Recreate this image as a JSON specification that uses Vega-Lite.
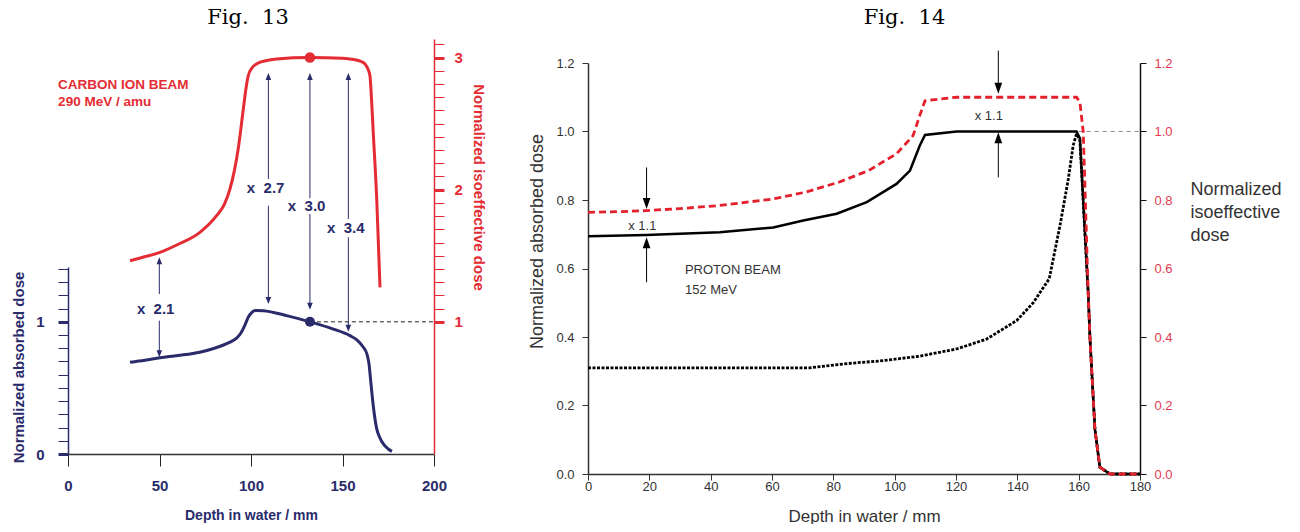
{
  "$schema": "https://vega.github.io/schema/vega-lite/v6.json",
  "padding": {"left": 11, "top": 7, "right": 0, "bottom": 0},
  "bounds": "flush",
  "spacing": 154,
  "config": {
    "view": {"stroke": null},
    "axis": {"grid": false},
    "font": "Liberation Sans"
  },
  "datasets": {
    "c13_blue": [{"x":33.9,"y":0.695},{"x":42,"y":0.71},{"x":50.3,"y":0.728},{"x":60,"y":0.745},{"x":72,"y":0.77},{"x":80,"y":0.8},{"x":88.5,"y":0.846},{"x":92,"y":0.875},{"x":94.5,"y":0.915},{"x":96.5,"y":0.97},{"x":98.5,"y":1.035},{"x":100.5,"y":1.072},{"x":102.5,"y":1.086},{"x":106.7,"y":1.084},{"x":120,"y":1.045},{"x":132.2,"y":1.0},{"x":145,"y":0.945},{"x":154,"y":0.896},{"x":158,"y":0.862},{"x":161,"y":0.815},{"x":163.5,"y":0.75},{"x":164.5,"y":0.68},{"x":165.3,"y":0.57},{"x":166,"y":0.47},{"x":167.3,"y":0.31},{"x":168.7,"y":0.19},{"x":170.5,"y":0.12},{"x":172.3,"y":0.076},{"x":175,"y":0.038},{"x":177,"y":0.02}],
    "c13_red": [{"x":33.9,"y":1.462},{"x":40,"y":1.485},{"x":50.3,"y":1.526},{"x":60,"y":1.585},{"x":72.1,"y":1.677},{"x":81.2,"y":1.803},{"x":85.5,"y":1.89},{"x":88.5,"y":2.005},{"x":91,"y":2.15},{"x":93,"y":2.308},{"x":95.8,"y":2.61},{"x":97.3,"y":2.77},{"x":98.5,"y":2.862},{"x":100.5,"y":2.92},{"x":103,"y":2.951},{"x":108,"y":2.975},{"x":114,"y":2.989},{"x":132.2,"y":3.0},{"x":150,"y":2.995},{"x":156,"y":2.985},{"x":160,"y":2.97},{"x":162.3,"y":2.951},{"x":164,"y":2.91},{"x":165,"y":2.862},{"x":165.8,"y":2.7},{"x":166.8,"y":2.434},{"x":168.7,"y":1.929},{"x":170.5,"y":1.261}],
    "c13_ref": [{"x":132.2,"x2":200,"y":1.0}],
    "c13_arrows": [{"x":49.9,"y":1.462,"y2":1.21},{"x":49.9,"y":1.009,"y2":0.758},{"x":109.5,"y":2.857,"y2":2.081},{"x":109.5,"y":1.878,"y2":1.161},{"x":132.2,"y":2.857,"y2":1.935},{"x":132.2,"y":1.816,"y2":1.118},{"x":153.2,"y":2.857,"y2":1.778},{"x":153.2,"y":1.64,"y2":0.951}],
    "c13_heads_up": [{"x":49.9,"y":1.462},{"x":109.5,"y":2.857},{"x":132.2,"y":2.857},{"x":153.2,"y":2.857}],
    "c13_heads_down": [{"x":49.9,"y":0.758},{"x":109.5,"y":1.161},{"x":132.2,"y":1.118},{"x":153.2,"y":0.951}],
    "c13_factors": [{"x":47.9,"y":1.097,"label":"x\u00a0 2.1"},{"x":108,"y":2.015,"label":"x\u00a0 2.7"},{"x":130.4,"y":1.879,"label":"x\u00a0 3.0"},{"x":151.8,"y":1.71,"label":"x\u00a0 3.4"}],
    "c13_beam": [{"x":-5.4,"y":2.762,"label":"CARBON ION BEAM"},{"x":-5.4,"y":2.631,"label":"290 MeV / amu"}],
    "c13_blue_dot": [{"x":132.2,"y":1.0}],
    "c13_red_dot": [{"x":132.2,"y":3.0}],
    "p14_solid": [{"x":0,"y":0.694},{"x":19,"y":0.698},{"x":43,"y":0.706},{"x":60.4,"y":0.72},{"x":70.2,"y":0.74},{"x":81.1,"y":0.76},{"x":90.9,"y":0.794},{"x":100.6,"y":0.847},{"x":105,"y":0.886},{"x":108.2,"y":0.959},{"x":109.9,"y":0.99},{"x":120.2,"y":1.0},{"x":159.3,"y":1.0},{"x":160.4,"y":0.98},{"x":163.1,"y":0.53},{"x":163.7,"y":0.394},{"x":165.3,"y":0.131},{"x":166.9,"y":0.02},{"x":170.2,"y":0},{"x":180,"y":0}],
    "p14_red": [{"x":0,"y":0.764},{"x":10,"y":0.766},{"x":19,"y":0.769},{"x":30,"y":0.775},{"x":43,"y":0.784},{"x":60.4,"y":0.803},{"x":71,"y":0.823},{"x":81.8,"y":0.852},{"x":91.5,"y":0.886},{"x":100.6,"y":0.935},{"x":106,"y":0.988},{"x":108.2,"y":1.047},{"x":109.9,"y":1.09},{"x":120.2,"y":1.1},{"x":159.3,"y":1.1},{"x":160.4,"y":1.086},{"x":161.5,"y":0.998},{"x":163.1,"y":0.53},{"x":163.7,"y":0.394},{"x":165.3,"y":0.131},{"x":166.9,"y":0.02},{"x":170.2,"y":0},{"x":180,"y":0}],
    "p14_dotted": [{"x":0,"y":0.31},{"x":72.4,"y":0.31},{"x":80,"y":0.318},{"x":86.5,"y":0.324},{"x":95.2,"y":0.33},{"x":108.2,"y":0.344},{"x":110.4,"y":0.348},{"x":120.2,"y":0.365},{"x":130,"y":0.394},{"x":139.8,"y":0.448},{"x":145.2,"y":0.5},{"x":150.4,"y":0.57},{"x":153.9,"y":0.725},{"x":156.6,"y":0.86},{"x":158.2,"y":0.959},{"x":159.3,"y":0.993},{"x":160.4,"y":0.975},{"x":163.1,"y":0.53},{"x":163.7,"y":0.394},{"x":165.3,"y":0.131},{"x":166.9,"y":0.02},{"x":170.2,"y":0},{"x":180,"y":0}],
    "p14_ref": [{"x":160,"x2":180,"y":1.0}],
    "p14_arrows": [{"x":19.1,"y":0.895,"y2":0.79},{"x":19.1,"y":0.56,"y2":0.675},{"x":133.8,"y":1.236,"y2":1.126},{"x":133.8,"y":0.866,"y2":0.982}],
    "p14_heads_up": [{"x":19.1,"y":0.675},{"x":133.8,"y":0.982}],
    "p14_heads_down": [{"x":19.1,"y":0.79},{"x":133.8,"y":1.126}],
    "p14_factors": [{"x":17.7,"y":0.725,"label":"x 1.1"},{"x":130.7,"y":1.046,"label":"x 1.1"}],
    "p14_beam": [{"x":31.6,"y":0.584,"label":"PROTON BEAM"},{"x":31.6,"y":0.526,"label":"152 MeV"}]
  },
  "hconcat": [
    {
      "width": 366,
      "height": 415,
      "title": {"text": "Fig.\u00a0 13", "font": "DejaVu Serif", "fontSize": 21, "fontWeight": "normal", "color": "#000000", "anchor": "middle", "frame": "bounds", "baseline": "alphabetic", "offset": -6},
      "encoding": {
        "x": {
          "field": "x", "type": "quantitative",
          "scale": {"domain": [0, 200]},
          "axis": {
            "values": [0, 50, 100, 150, 200],
            "title": "Depth in water / mm",
            "titleFont": "Liberation Sans", "titleFontSize": 14, "titleFontWeight": "bold", "titleColor": "#2a2b6b", "titlePadding": 15,
            "labelFont": "Liberation Sans", "labelFontSize": 15, "labelFontWeight": "bold", "labelColor": "#2a2b6b", "labelPadding": 12,
            "tickSize": 12, "tickColor": "#222222", "domainColor": "#333333", "domainWidth": 1.5, "labelFlush": false
          }
        }
      },
      "layer": [
        {
          "encoding": {
            "y": {
              "field": "y", "type": "quantitative",
              "scale": {"domain": [0, 1.4148], "range": [415, 228]},
              "axis": {
                "orient": "left",
                "values": [0, 0.1, 0.2, 0.3, 0.4, 0.5, 0.6, 0.7, 0.8, 0.9, 1, 1.1, 1.2, 1.3, 1.4],
                "labelExpr": "datum.value === 0 ? '0' : (datum.value === 1 ? '1' : '')",
                "tickSize": 10,
                "tickWidth": {"condition": {"test": "datum.value === 0 || datum.value === 1", "value": 3}, "value": 1},
                "tickColor": "#2a2b6b", "domainColor": "#2a2b6b", "domainWidth": 1.5,
                "labelFont": "Liberation Sans", "labelFontSize": 15, "labelFontWeight": "bold", "labelColor": "#2a2b6b", "labelPadding": 14,
                "title": "Normalized absorbed dose",
                "titleFont": "Liberation Sans", "titleFontSize": 15, "titleFontWeight": "bold", "titleColor": "#2a2b6b",
                "titleAngle": -90, "titleX": -50, "titleY": 328, "titleBaseline": "middle", "titleAlign": "center"
              }
            }
          },
          "layer": [
            {"data": {"name": "c13_blue"}, "mark": {"type": "line", "color": "#2a2b6b", "strokeWidth": 3, "interpolate": "monotone"}}
          ]
        },
        {
          "encoding": {
            "y": {
              "field": "y", "type": "quantitative",
              "scale": {"domain": [0, 3.14]},
              "axis": {
                "orient": "right",
                "values": [1, 1.1, 1.2, 1.3, 1.4, 1.5, 1.6, 1.7, 1.8, 1.9, 2, 2.1, 2.2, 2.3, 2.4, 2.5, 2.6, 2.7, 2.8, 2.9, 3, 3.1],
                "labelExpr": "(datum.value === 1 || datum.value === 2 || datum.value === 3) ? format(datum.value, 'd') : ''",
                "tickSize": 10,
                "tickWidth": {"condition": {"test": "datum.value === 1 || datum.value === 2 || datum.value === 3", "value": 3}, "value": 1},
                "tickColor": "#e42c34", "domainColor": "#e42c34", "domainWidth": 1.5,
                "labelFont": "Liberation Sans", "labelFontSize": 15, "labelFontWeight": "bold", "labelColor": "#e42c34", "labelPadding": 10,
                "title": "Normalized isoeffective dose",
                "titleFont": "Liberation Sans", "titleFontSize": 15, "titleFontWeight": "bold", "titleColor": "#e42c34",
                "titleAngle": 90, "titleX": 44, "titleY": 148, "titleBaseline": "middle", "titleAlign": "center"
              }
            }
          },
          "layer": [
            {"data": {"name": "c13_red"}, "mark": {"type": "line", "color": "#e42c34", "strokeWidth": 3, "interpolate": "monotone"}},
            {"data": {"name": "c13_ref"}, "mark": {"type": "rule", "color": "#222222", "strokeWidth": 1, "strokeDash": [4, 3]}, "encoding": {"x2": {"field": "x2"}}},
            {"data": {"name": "c13_arrows"}, "mark": {"type": "rule", "color": "#2a2b6b", "strokeWidth": 1}, "encoding": {"y2": {"field": "y2"}}},
            {"data": {"name": "c13_heads_up"}, "mark": {"type": "point", "shape": "M-0.8,1L0.8,1L0,-1Z", "filled": true, "size": 49, "color": "#2a2b6b", "opacity": 1, "strokeWidth": 0}},
            {"data": {"name": "c13_heads_down"}, "mark": {"type": "point", "shape": "M-0.8,-1L0.8,-1L0,1Z", "filled": true, "size": 49, "color": "#2a2b6b", "opacity": 1, "strokeWidth": 0}},
            {"data": {"name": "c13_factors"}, "mark": {"type": "text", "font": "Liberation Sans", "fontSize": 15, "fontWeight": "bold", "color": "#2a2b6b", "align": "center", "baseline": "middle"}, "encoding": {"text": {"field": "label"}}},
            {"data": {"name": "c13_beam"}, "mark": {"type": "text", "font": "Liberation Sans", "fontSize": 13.5, "fontWeight": "bold", "color": "#e42c34", "align": "left", "baseline": "alphabetic"}, "encoding": {"text": {"field": "label"}}},
            {"data": {"name": "c13_blue_dot"}, "mark": {"type": "point", "shape": "circle", "filled": true, "size": 100, "color": "#2a2b6b", "opacity": 1}},
            {"data": {"name": "c13_red_dot"}, "mark": {"type": "point", "shape": "circle", "filled": true, "size": 110, "color": "#e42c34", "opacity": 1}}
          ]
        }
      ],
      "resolve": {"scale": {"y": "independent"}}
    },
    {
      "width": 552,
      "height": 435,
      "title": {"text": "Fig.\u00a0 14", "font": "DejaVu Serif", "fontSize": 21, "fontWeight": "normal", "color": "#000000", "anchor": "middle", "frame": "bounds", "baseline": "alphabetic", "offset": -6},
      "encoding": {
        "x": {
          "field": "x", "type": "quantitative",
          "scale": {"domain": [0, 180]},
          "axis": {
            "values": [0, 20, 40, 60, 80, 100, 120, 140, 160, 180],
            "title": "Depth in water / mm",
            "titleFont": "Liberation Sans", "titleFontSize": 17, "titleFontWeight": "normal", "titleColor": "#333333", "titlePadding": 15,
            "labelFont": "Liberation Sans", "labelFontSize": 13, "labelColor": "#333333", "labelPadding": 0,
            "tickSize": 6, "tickColor": "#333333", "domainColor": "#333333", "domainWidth": 1.5, "labelFlush": false
          }
        }
      },
      "layer": [
        {
          "encoding": {
            "y": {
              "field": "y", "type": "quantitative",
              "scale": {"domain": [0, 1.2], "range": [435, 24]},
              "axis": {
                "orient": "left",
                "values": [0, 0.2, 0.4, 0.6, 0.8, 1.0, 1.2],
                "format": ".1f",
                "tickSize": 6, "tickColor": "#333333", "domainColor": "#333333", "domainWidth": 1.5,
                "labelFont": "Liberation Sans", "labelFontSize": 13, "labelColor": "#333333", "labelPadding": 8,
                "title": "Normalized absorbed dose",
                "titleFont": "Liberation Sans", "titleFontSize": 18, "titleFontWeight": "normal", "titleColor": "#333333",
                "titleAngle": -90, "titleX": -51, "titleY": 202, "titleBaseline": "middle", "titleAlign": "center"
              }
            }
          },
          "layer": [
            {"data": {"name": "p14_dotted"}, "mark": {"type": "line", "color": "#000000", "strokeWidth": 2.8, "strokeDash": [3, 1.5]}},
            {"data": {"name": "p14_solid"}, "mark": {"type": "line", "color": "#000000", "strokeWidth": 2.5}},
            {"data": {"name": "p14_ref"}, "mark": {"type": "rule", "color": "#888888", "strokeWidth": 1, "strokeDash": [4, 4]}, "encoding": {"x2": {"field": "x2"}}},
            {"data": {"name": "p14_arrows"}, "mark": {"type": "rule", "color": "#000000", "strokeWidth": 1}, "encoding": {"y2": {"field": "y2"}}},
            {"data": {"name": "p14_heads_up"}, "mark": {"type": "point", "shape": "M-0.7,1L0.7,1L0,-1Z", "filled": true, "size": 121, "color": "#000000", "opacity": 1, "strokeWidth": 0}},
            {"data": {"name": "p14_heads_down"}, "mark": {"type": "point", "shape": "M-0.7,-1L0.7,-1L0,1Z", "filled": true, "size": 121, "color": "#000000", "opacity": 1, "strokeWidth": 0}},
            {"data": {"name": "p14_factors"}, "mark": {"type": "text", "font": "Liberation Sans", "fontSize": 13, "color": "#333333", "align": "center", "baseline": "middle"}, "encoding": {"text": {"field": "label"}}},
            {"data": {"name": "p14_beam"}, "mark": {"type": "text", "font": "Liberation Sans", "fontSize": 13, "color": "#333333", "align": "left", "baseline": "alphabetic"}, "encoding": {"text": {"field": "label"}}}
          ]
        },
        {
          "encoding": {
            "y": {
              "field": "y", "type": "quantitative",
              "scale": {"domain": [0, 1.2], "range": [435, 24]},
              "axis": {
                "orient": "right",
                "values": [0, 0.2, 0.4, 0.6, 0.8, 1.0, 1.2],
                "format": ".1f",
                "tickSize": 6, "tickColor": "#111111", "domainColor": "#111111", "domainWidth": 1.5,
                "labelFont": "Liberation Sans", "labelFontSize": 13, "labelColor": "#e23a4e", "labelPadding": 8,
                "title": ["Normalized", "isoeffective", "dose"],
                "titleFont": "Liberation Sans", "titleFontSize": 18, "titleFontWeight": "normal", "titleColor": "#333333",
                "titleAngle": 0, "titleX": 50, "titleY": 141, "titleBaseline": "top", "titleAlign": "left", "titleLineHeight": 23
              }
            }
          },
          "layer": [
            {"data": {"name": "p14_red"}, "mark": {"type": "line", "color": "#e3202c", "strokeWidth": 2.8, "strokeDash": [7, 4]}}
          ]
        }
      ],
      "resolve": {"scale": {"y": "independent"}}
    }
  ]
}
